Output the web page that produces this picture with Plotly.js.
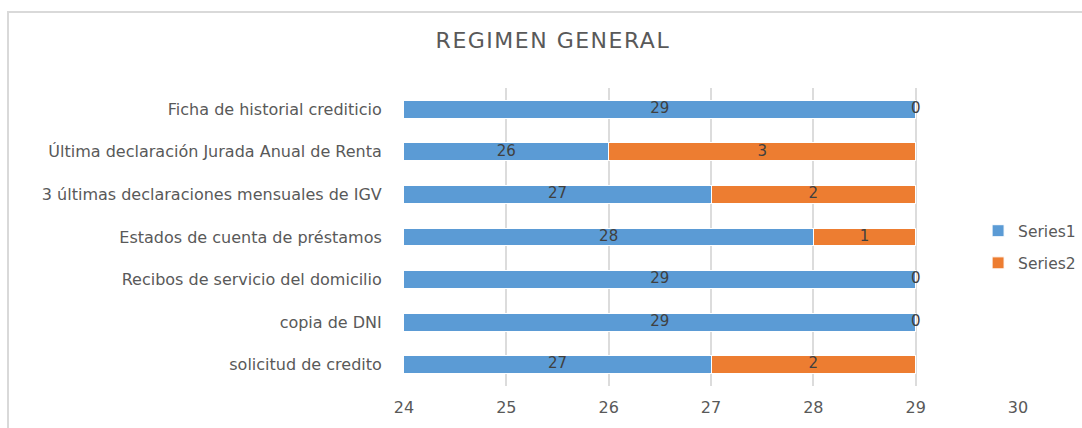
<!DOCTYPE html>
<html>
<head>
<meta charset="utf-8">
<script src="https://cdn.plot.ly/plotly-3.0.1.min.js"></script>
<style>
html,body{margin:0;padding:0;background:#fff;}
#wrap{position:relative;width:1082px;height:428px;overflow:hidden;}
#chart{position:absolute;left:0;top:0;width:1082px;height:428px;}
#frame{position:absolute;left:7px;top:11px;width:1200px;height:600px;border-left:2px solid #d9d9d9;border-top:2px solid #d9d9d9;pointer-events:none;}
#chart .gtitle{letter-spacing:1.5px;}
</style>
</head>
<body>
<div id="wrap"><div id="chart"></div><div id="frame"></div></div>
<script>
const categories = [
  "Ficha de historial crediticio",
  "Última declaración Jurada Anual de Renta",
  "3 últimas declaraciones mensuales de IGV",
  "Estados de cuenta de préstamos",
  "Recibos de servicio del domicilio",
  "copia de DNI",
  "solicitud de credito"
];
const series1 = [29, 26, 27, 28, 29, 29, 27];
const series2 = [0, 3, 2, 1, 0, 0, 2];
const xTicks = [24, 25, 26, 27, 28, 29, 30];
const xRange = [24, 30];

const font = "DejaVu Sans, Open Sans, sans-serif";
const blue = "#5B9BD5", orange = "#ED7D31";

const label1X = series1.map(v => (xRange[0] + v) / 2);
const label2X = series1.map((v, i) => v + series2[i] / 2);

const traces = [
  {type: "bar", orientation: "h", name: "Series1", y: categories, x: series1,
   marker: {color: blue, line: {color: "#ffffff", width: 1}}, legendgroup: "a", hoverinfo: "x+y"},
  {type: "bar", orientation: "h", name: "Series2", y: categories, x: series2,
   marker: {color: orange, line: {color: "#ffffff", width: 1}}, legendgroup: "b", hoverinfo: "x+y"},
  {type: "scatter", mode: "text", x: label1X, y: categories, text: series1.map(String),
   textfont: {family: font, size: 15, color: "#404040"}, showlegend: false, hoverinfo: "skip", cliponaxis: false},
  {type: "scatter", mode: "text", x: label2X, y: categories, text: series2.map(String),
   textfont: {family: font, size: 15, color: "#404040"}, showlegend: false, hoverinfo: "skip", cliponaxis: false}
];

const layout = {
  width: 1082, height: 428,
  margin: {l: 404, r: 64, t: 88, b: 42, autoexpand: false},
  paper_bgcolor: "rgba(0,0,0,0)", plot_bgcolor: "rgba(0,0,0,0)",
  barmode: "stack", bargap: 0.58,
  font: {family: font, color: "#595959"},
  title: {text: "REGIMEN GENERAL", font: {family: font, size: 22, color: "#595959"},
          x: 0.511, xref: "container", xanchor: "center", y: 0.905, yref: "container", yanchor: "middle"},
  xaxis: {range: xRange, tickvals: xTicks, ticktext: xTicks.map(String),
          showgrid: true, gridcolor: "#dcdcdc", gridwidth: 2, zeroline: false, showline: false,
          ticks: "outside", ticklen: 7, tickcolor: "rgba(0,0,0,0)",
          tickfont: {family: font, size: 16, color: "#595959"}, fixedrange: true},
  yaxis: {type: "category", autorange: "reversed", showgrid: false, zeroline: false, showline: false,
          ticks: "outside", ticklen: 18, tickcolor: "rgba(0,0,0,0)",
          tickfont: {family: font, size: 16, color: "#595959"}, fixedrange: true},
  showlegend: true,
  legend: {x: 0.935, xanchor: "left", y: 0.466, yanchor: "middle", bgcolor: "#ffffff",
           font: {family: font, size: 15.5, color: "#595959"}, tracegroupgap: 9, traceorder: "grouped"}
};

Plotly.newPlot("chart", traces, layout, {displayModeBar: false, staticPlot: true});
</script>
</body>
</html>
